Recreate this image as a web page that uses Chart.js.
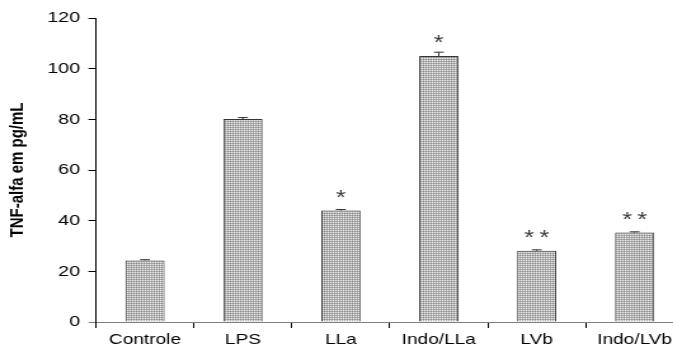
<!DOCTYPE html>
<html>
<head>
<meta charset="utf-8">
<script src="https://cdn.jsdelivr.net/npm/chart.js@4/dist/chart.umd.min.js"></script>
<style>
  html, body { margin: 0; padding: 0; background: #fff; overflow: hidden; width: 673px; height: 354px; }
  #wrap { position: absolute; left: 0; top: 0; width: 544px; height: 354px; transform: scaleX(1.27); transform-origin: 0 0; }
</style>
</head>
<body>
<div id="wrap"><canvas id="c"></canvas></div>
<script>
const categories = ['Controle', 'LPS', 'LLa', 'Indo/LLa', 'LVb', 'Indo/LVb'];
const values = [24.3, 80.1, 44.0, 105.0, 28.1, 35.3];
const errors = [0.3, 0.6, 0.4, 1.5, 0.4, 0.3];
const marks = ['', '', '*', '*', '**', '**'];
const yTicks = [0, 20, 40, 60, 80, 100, 120];

const FONT = "'Liberation Sans', Arial, sans-serif";

// dotted gray fill pattern
const pc = document.createElement('canvas');
pc.width = 2; pc.height = 2;
const px = pc.getContext('2d');
px.fillStyle = '#f0f0f0'; px.fillRect(0, 0, 1, 1);
px.fillStyle = '#b0b0b0'; px.fillRect(1, 0, 1, 1); px.fillRect(0, 1, 1, 1);
px.fillStyle = '#909090'; px.fillRect(1, 1, 1, 1);
const pattern = px.createPattern(pc, 'repeat');

const extras = {
  id: 'extras',
  afterDatasetsDraw(chart) {
    const ctx = chart.ctx;
    const ys = chart.scales.y;
    const meta = chart.getDatasetMeta(0);
    ctx.save();
    meta.data.forEach((el, i) => {
      const x = el.x;
      const top = ys.getPixelForValue(values[i] + errors[i]);
      const bar = ys.getPixelForValue(values[i]);
      ctx.strokeStyle = '#333';
      ctx.lineWidth = 1;
      ctx.beginPath();
      ctx.moveTo(x, bar); ctx.lineTo(x, top);
      ctx.moveTo(x - 3.9, top); ctx.lineTo(x + 3.9, top);
      ctx.stroke();
      const m = marks[i];
      if (m) {
        ctx.fillStyle = '#3a3a3a';
        ctx.font = '20px ' + FONT;
        ctx.textAlign = 'center';
        ctx.textBaseline = 'alphabetic';
        const n = m.length;
        const sp = 11.8;
        const cy = bar - 18;
        for (let k = 0; k < n; k++) {
          const cx = x + (k - (n - 1) / 2) * sp;
          ctx.fillText('*', cx, cy + 11);
        }
      }
    });
    ctx.restore();
  }
};

new Chart(document.getElementById('c'), {
  type: 'bar',
  data: {
    labels: categories,
    datasets: [{
      data: values,
      backgroundColor: pattern,
      borderColor: '#333',
      borderWidth: 1,
      barPercentage: 0.4,
      categoryPercentage: 1.0
    }]
  },
  options: {
    responsive: true,
    maintainAspectRatio: false,
    animation: false,
    devicePixelRatio: 1,
    layout: { padding: { top: 18, right: 5.7, left: 0, bottom: 0 } },
    plugins: { legend: { display: false }, tooltip: { enabled: false } },
    scales: {
      x: {
        grid: { drawOnChartArea: false, offset: true, color: '#000', tickLength: 6 },
        border: { color: '#808080', width: 1 },
        ticks: { color: '#000', font: { family: FONT, size: 15 }, padding: 3, maxRotation: 0, autoSkip: false },
        afterFit(s) { s.height = 32; }
      },
      y: {
        min: 0, max: 120,
        afterBuildTicks(s) { s.ticks = yTicks.map(v => ({ value: v })); },
        grid: { drawOnChartArea: false, color: (c) => (c.tick && c.tick.value === 0 ? '#808080' : '#000'), tickLength: 6 },
        border: { color: '#000', width: 1 },
        ticks: { color: '#000', font: { family: FONT, size: 15.5 }, padding: 6.6 },
        title: { display: true, text: 'TNF-alfa em pg/mL', color: '#000', font: { family: FONT, size: 15, weight: 'bold' }, padding: { top: 4.4, bottom: 0 } },
        afterFit(s) { s.width = 75.6; }
      }
    }
  },
  plugins: [extras]
});
</script>
</body>
</html>
